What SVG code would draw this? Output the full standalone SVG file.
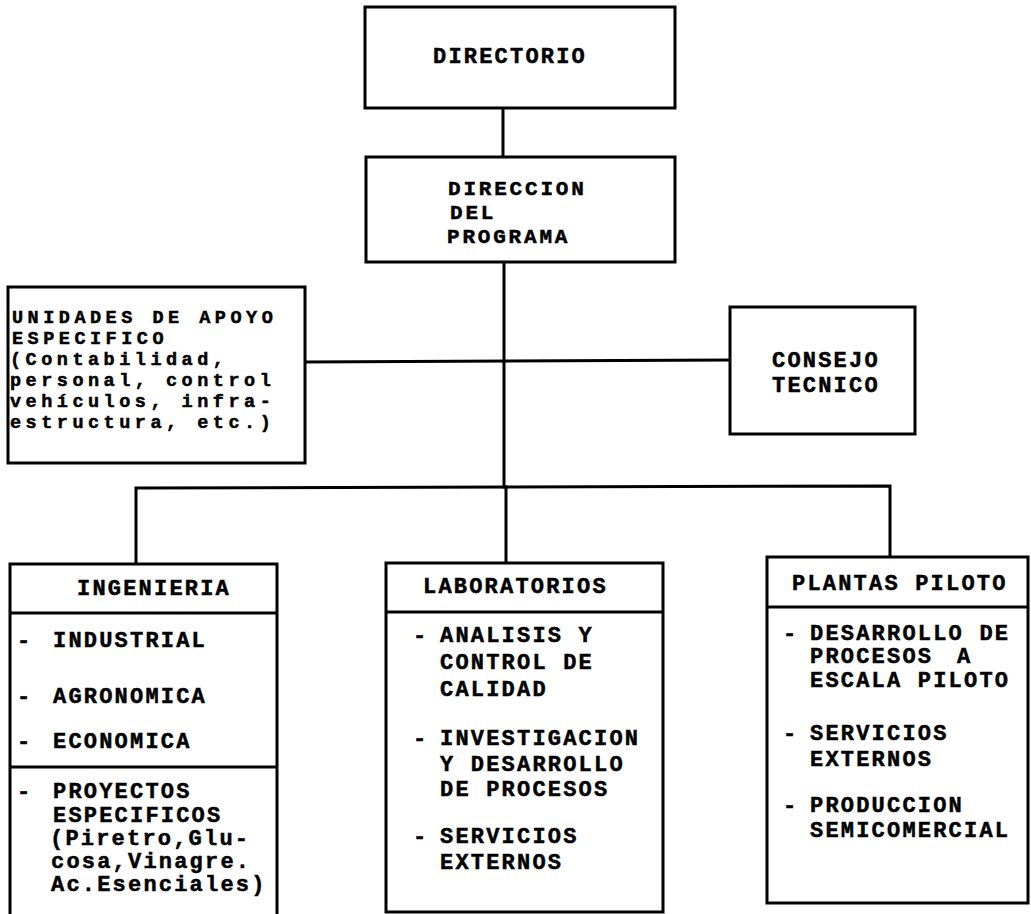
<svg xmlns="http://www.w3.org/2000/svg" width="1031" height="914" viewBox="0 0 1031 914">
<style>
.box{fill:#fff;stroke:#000;stroke-width:3}
.div{stroke:#000;stroke-width:3;fill:none}
.con{stroke:#000;stroke-width:3;fill:none;stroke-linecap:square}
text{font-family:"Liberation Mono","Courier New",monospace;font-weight:bold;font-size:22px;letter-spacing:2.2px;fill:#000;stroke:#000;stroke-width:0.5}
.sm{font-size:18.5px;letter-spacing:4.5px}
.md{font-size:21px;letter-spacing:2.8px}
</style>
<rect width="1031" height="914" fill="#fff"/>
<g id="connectors">
<line class="con" x1="503" y1="108" x2="503" y2="157"/>
<line class="con" x1="504" y1="262" x2="504" y2="487"/>
<line class="con" x1="305" y1="362" x2="730" y2="360"/>
<polyline class="con" points="136,564 136,488 890,486 890,557"/>
<line class="con" x1="506" y1="487" x2="506" y2="563"/>
</g>
<g id="directorio">
<rect class="box" x="365" y="7" width="310" height="101"/>
<text x="433" y="63">DIRECTORIO</text>
</g>
<g id="direccion">
<rect class="box" x="366" y="157" width="309" height="105"/>
<text class="md" x="448" y="195">DIRECCION</text>
<text class="md" x="450" y="219">DEL</text>
<text class="md" x="447" y="243">PROGRAMA</text>
</g>
<g id="unidades">
<rect class="box" x="8" y="287" width="297" height="176"/>
<text class="sm" x="12" y="323">UNIDADES DE APOYO</text>
<text class="sm" x="12" y="344">ESPECIFICO</text>
<text class="sm" x="10" y="365">(Contabilidad,</text>
<text class="sm" x="10" y="386">personal, control</text>
<text class="sm" x="10" y="407">vehículos, infra-</text>
<text class="sm" x="10" y="428">estructura, etc.)</text>
</g>
<g id="consejo">
<rect class="box" x="730" y="307" width="185" height="127"/>
<text x="772" y="367">CONSEJO</text>
<text x="772" y="392">TECNICO</text>
</g>
<g id="ingenieria">
<rect class="box" x="10" y="564" width="267" height="356"/>
<line class="div" x1="10" y1="613" x2="277" y2="613"/>
<line class="div" x1="10" y1="767" x2="277" y2="767"/>
<text x="77" y="595">INGENIERIA</text>
<text x="17" y="647">-</text><text x="53" y="647">INDUSTRIAL</text>
<text x="17" y="703">-</text><text x="53" y="703">AGRONOMICA</text>
<text x="17" y="748">-</text><text x="53" y="748">ECONOMICA</text>
<text x="17" y="798">-</text><text x="53" y="798">PROYECTOS</text>
<text x="53" y="822">ESPECIFICOS</text>
<text x="50" y="845">(Piretro,Glu-</text>
<text x="51" y="868">cosa,Vinagre.</text>
<text x="51" y="891">Ac.Esenciales)</text>
</g>
<g id="laboratorios">
<rect class="box" x="386" y="563" width="277" height="349"/>
<line class="div" x1="386" y1="612" x2="663" y2="612"/>
<text x="423" y="593">LABORATORIOS</text>
<text x="413" y="642">-</text><text x="440" y="642">ANALISIS Y</text>
<text x="440" y="669">CONTROL DE</text>
<text x="440" y="696">CALIDAD</text>
<text x="413" y="745">-</text><text x="440" y="745">INVESTIGACION</text>
<text x="440" y="771">Y DESARROLLO</text>
<text x="440" y="796">DE PROCESOS</text>
<text x="413" y="843">-</text><text x="440" y="843">SERVICIOS</text>
<text x="440" y="869">EXTERNOS</text>
</g>
<g id="plantas">
<rect class="box" x="767" y="557" width="261" height="346"/>
<line class="div" x1="767" y1="607" x2="1028" y2="607"/>
<text x="792" y="590">PLANTAS PILOTO</text>
<text x="783" y="640">-</text><text x="810" y="640">DESARROLLO DE</text>
<text x="810" y="663">PROCESOS<tspan x="957">A</tspan></text>
<text x="810" y="687">ESCALA PILOTO</text>
<text x="783" y="740">-</text><text x="810" y="740">SERVICIOS</text>
<text x="810" y="766">EXTERNOS</text>
<text x="783" y="812">-</text><text x="810" y="812">PRODUCCION</text>
<text x="810" y="837">SEMICOMERCIAL</text>
</g>
</svg>
